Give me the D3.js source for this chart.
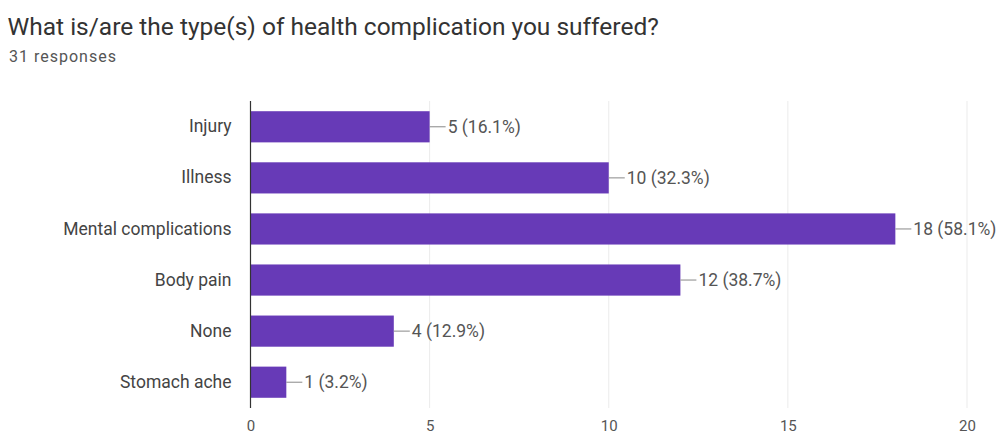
<!DOCTYPE html>
<html>
<head>
<meta charset="utf-8">
<script src="https://cdn.jsdelivr.net/npm/d3@7"></script>
<style>
  html, body { margin: 0; padding: 0; background: #fff; }
  svg { display: block; font-family: Roboto, Arial, sans-serif; }
</style>
</head>
<body>
<svg id="chart" width="1005" height="438"></svg>
<script>
// Survey: "What is/are the type(s) of health complication you suffered?"
const categories = ["Injury", "Illness", "Mental complications", "Body pain", "None", "Stomach ache"];
const counts = [5, 10, 18, 12, 4, 1];
const percents = ["16.1%", "32.3%", "58.1%", "38.7%", "12.9%", "3.2%"];
const xTicks = [0, 5, 10, 15, 20];
const title = "What is/are the type(s) of health complication you suffered?";
const subtitle = "31 responses";

const svg = d3.select("#chart");
const margin = { left: 250.5, right: 38, top: 101, bottom: 30 };
const W = 1005, H = 438;

const x = d3.scaleLinear().domain([0, 20]).range([margin.left, W - margin.right]);
const y = d3.scaleBand().domain(categories).range([margin.top, H - margin.bottom]).paddingInner(0.39).paddingOuter(0.2);

svg.append("text").attr("x", 7.5).attr("y", 35)
  .attr("font-size", 24.5).attr("fill", "#333").text(title);
svg.append("text").attr("x", 9).attr("y", 62)
  .attr("font-size", 16).attr("letter-spacing", 1).attr("fill", "#555").text(subtitle);

// vertical grid
svg.append("g").selectAll("line").data(xTicks.slice(1)).join("line")
  .attr("x1", d => x(d)).attr("x2", d => x(d))
  .attr("y1", margin.top).attr("y2", H - margin.bottom)
  .attr("stroke", "#ebebeb").attr("stroke-width", 1);

// x axis tick labels
const xAxis = d3.axisBottom(x).tickValues(xTicks).tickSize(0).tickPadding(12);
const gx = svg.append("g").attr("transform", `translate(0,${H - margin.bottom})`).call(xAxis);
gx.select(".domain").remove();
gx.selectAll("text").attr("font-size", 15).attr("fill", "#555").attr("font-family", "Roboto, Arial, sans-serif");

// bars
svg.append("g").selectAll("rect").data(categories).join("rect")
  .attr("x", x(0)).attr("y", d => y(d))
  .attr("width", (d, i) => x(counts[i]) - x(0))
  .attr("height", y.bandwidth())
  .attr("fill", "#673ab7");

// y axis labels
const yAxis = d3.axisLeft(y).tickSize(0).tickPadding(19);
const gy = svg.append("g").attr("transform", `translate(${x(0)},0)`).call(yAxis);
gy.select(".domain").remove();
gy.selectAll("text").attr("font-size", 17.5).attr("fill", "#444").attr("font-family", "Roboto, Arial, sans-serif");

// baseline
svg.append("line").attr("x1", x(0)).attr("x2", x(0))
  .attr("y1", margin.top).attr("y2", H - margin.bottom)
  .attr("stroke", "#333").attr("stroke-width", 1.2);

// value labels with leader lines
const lbl = svg.append("g").selectAll("g").data(categories).join("g")
  .attr("transform", (d, i) => `translate(${x(counts[i])},${y(d) + y.bandwidth() / 2})`);
lbl.append("line").attr("x1", 0).attr("x2", 16).attr("stroke", "#888").attr("stroke-width", 1);
lbl.append("text").attr("x", 18).attr("dy", "0.35em")
  .attr("font-size", 17.5).attr("fill", "#555")
  .text((d, i) => `${counts[i]} (${percents[i]})`);
</script>
</body>
</html>
